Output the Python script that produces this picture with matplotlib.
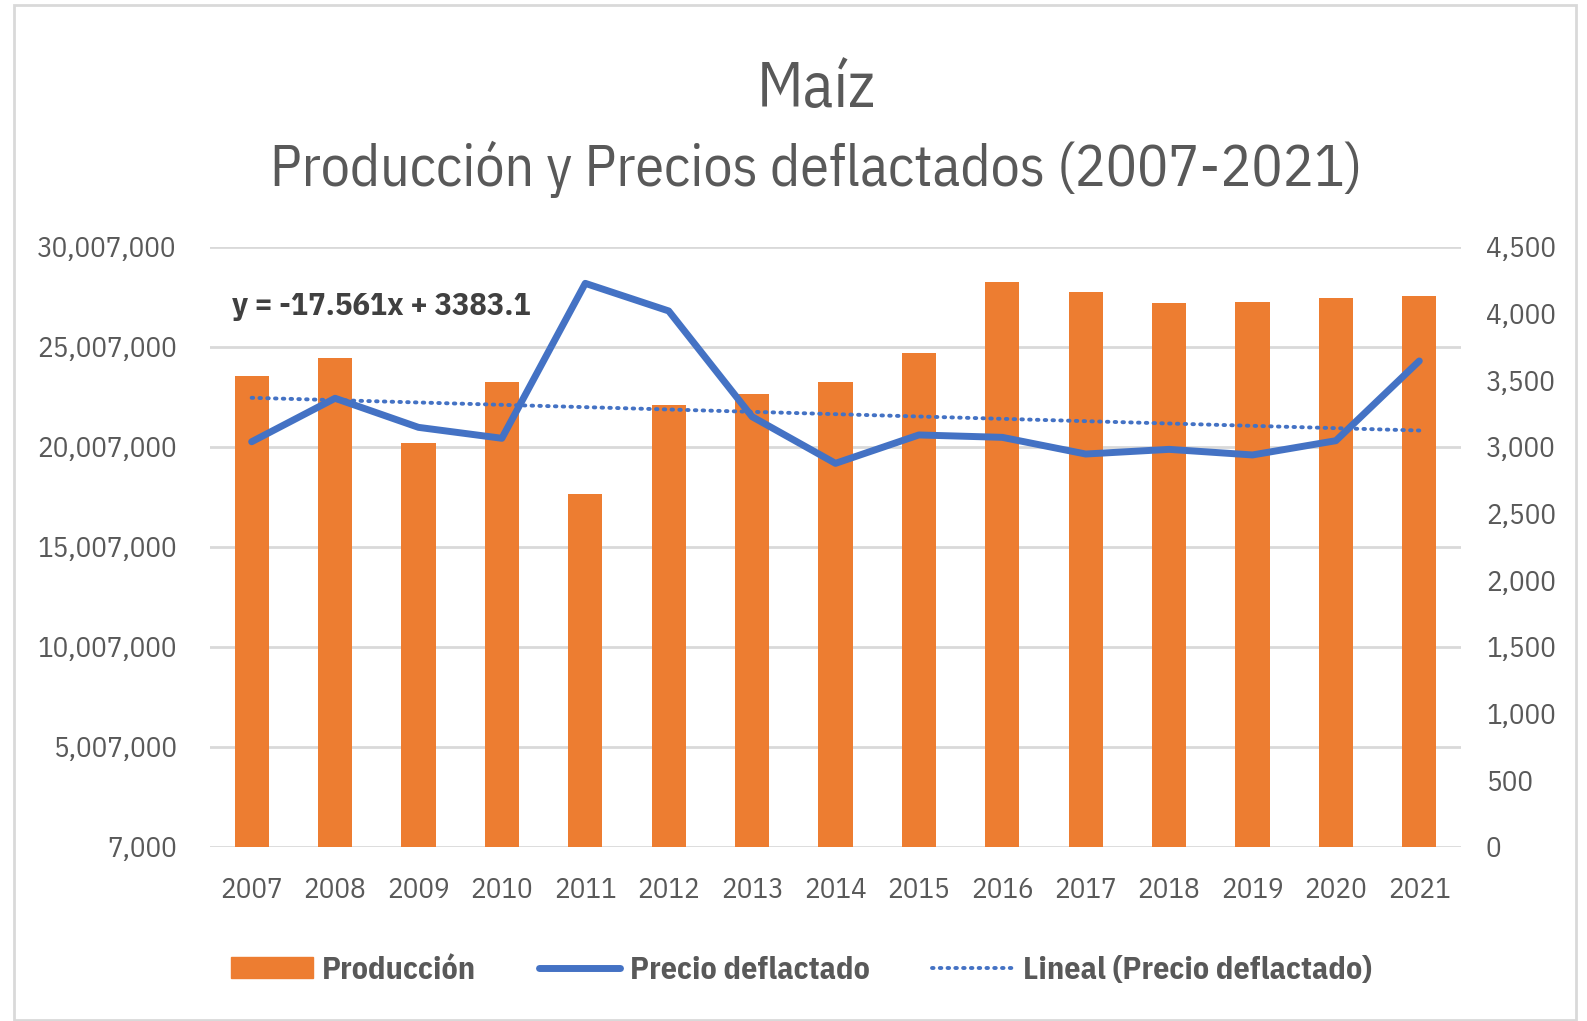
import numpy as np
import matplotlib
matplotlib.use('Agg')
import matplotlib.pyplot as plt
import matplotlib.ticker as mticker
from matplotlib.patches import Patch, Rectangle
from matplotlib.lines import Line2D

plt.rcParams['font.family'] = ['IBM Plex Sans Condensed', 'DejaVu Sans']

# data
years = ['2007', '2008', '2009', '2010', '2011', '2012', '2013', '2014',
         '2015', '2016', '2017', '2018', '2019', '2020', '2021']
produccion = [23530000, 24450000, 20170000, 23250000, 17620000, 22080000,
              22620000, 23250000, 24700000, 28250000, 27720000, 27170000,
              27250000, 27430000, 27520000]
precio = [3037, 3363, 3145, 3063, 4225, 4018, 3225, 2875,
          3088, 3070, 2945, 2980, 2938, 3045, 3643]
left_ticks = [7000, 5007000, 10007000, 15007000, 20007000, 25007000, 30007000]
right_ticks = [0, 500, 1000, 1500, 2000, 2500, 3000, 3500, 4000, 4500]

orange = '#ED7D31'
blue = '#4472C4'
gray = '#595959'

fig = plt.figure(figsize=(15.87, 10.21), dpi=100)
fig.patches.append(Rectangle((14 / 1587, 1 - 1020 / 1021), 1562 / 1587, 1015 / 1021,
                             transform=fig.transFigure, fill=False,
                             edgecolor='#D9D9D9', linewidth=2))

ax = fig.add_axes([0.1323, 0.1707, 0.7883, 0.5877])
ax2 = ax.twinx()

x = np.arange(len(years))
ax.bar(x, produccion, width=0.41, color=orange, zorder=2)
ax2.plot(x, precio, color=blue, linewidth=5, solid_capstyle='round', zorder=3)

# linear trend
coef = np.polyfit(np.arange(1, len(years) + 1), precio, 1)
trend = np.polyval(coef, np.arange(1, len(years) + 1))
dots = (0, (0.4, 1.6))
ax2.plot(x, trend, color=blue, linewidth=2.8, linestyle=dots,
         dash_capstyle='round', zorder=3)

ax.set_xlim(-0.5, len(years) - 0.5)
ax.set_ylim(7000, 30007000)
ax2.set_ylim(0, 4500)
ax.set_yticks(left_ticks)
ax2.set_yticks(right_ticks)
ax.yaxis.set_major_formatter(mticker.FuncFormatter(lambda v, p: '{:,.0f}'.format(v)))
ax2.yaxis.set_major_formatter(mticker.FuncFormatter(lambda v, p: '{:,.0f}'.format(v)))
ax.set_xticks(x)
ax.set_xticklabels(years)

ax.grid(axis='y', color='#D9D9D9', linewidth=2, zorder=0)
ax.set_axisbelow(True)
for a in (ax, ax2):
    for s in a.spines.values():
        s.set_visible(False)
    a.tick_params(length=0, labelsize=21, labelcolor=gray)
ax.tick_params(axis='y', pad=24)
ax2.tick_params(axis='y', pad=18)
ax.tick_params(axis='x', pad=22)

ax2.text(0.018, 0.900, 'y = -17.561x + 3383.1', transform=ax.transAxes,
         fontsize=23.3, fontweight='bold', color='#404040', va='center', ha='left')

fig.text(0.514, 1 - 89 / 1021, 'Maíz', ha='center', va='center',
         fontsize=46, color=gray)
fig.text(0.514, 1 - 169 / 1021, 'Producción y Precios deflactados (2007-2021)',
         ha='center', va='center', fontsize=41.6, color=gray)

handles = [Patch(facecolor=orange, edgecolor=orange),
           Line2D([], [], color=blue, linewidth=5, solid_capstyle='round'),
           Line2D([], [], color=blue, linewidth=2.8, linestyle=dots,
                  dash_capstyle='round')]
labels = ['Producción', 'Precio deflactado', 'Lineal (Precio deflactado)']
leg = fig.legend(handles, labels, loc='center', bbox_to_anchor=(0.505, 1 - 970 / 1021),
                 ncol=3, frameon=False, handlelength=2.55, handleheight=0.65,
                 handletextpad=0.3, columnspacing=1.95,
                 prop={'size': 23, 'weight': 'bold'})
for t in leg.get_texts():
    t.set_color(gray)

fig.savefig('out.png', dpi=100, facecolor='white')
